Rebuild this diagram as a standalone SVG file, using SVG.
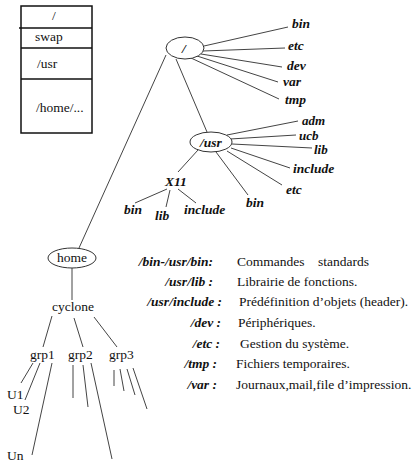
<svg xmlns="http://www.w3.org/2000/svg" width="417" height="463" viewBox="0 0 417 463">
<style>
text{font-family:'Liberation Serif','DejaVu Serif',serif;font-size:13.5px;fill:#111}
.bi{font-weight:bold;font-style:italic}
.t{font-size:13.5px}
.s{font-size:13px}
.c{text-anchor:middle}
.e{text-anchor:end}
.ln{stroke:#444;stroke-width:1;fill:none}
.node{fill:#fff;stroke:#333;stroke-width:1}
.box{fill:#fff;stroke:#111;stroke-width:1.5}
</style>
<rect width="417" height="463" fill="#fff"/>
<g id="partitions">
<rect class="box" x="21" y="6" width="71" height="127"/>
<line class="box" x1="19" y1="28" x2="92" y2="28"/>
<line class="box" x1="21" y1="48" x2="92" y2="48"/>
<line class="box" x1="21" y1="79" x2="92" y2="79"/>
<text x="52" y="20">/</text>
<text x="35" y="41">swap</text>
<text x="37" y="68">/usr</text>
<text x="36" y="112">/home/...</text>
</g>
<g id="connectors">
<line class="ln" x1="204" y1="46" x2="288" y2="27"/>
<line class="ln" x1="203" y1="51" x2="285" y2="48"/>
<line class="ln" x1="201" y1="54" x2="282" y2="67"/>
<line class="ln" x1="197" y1="56" x2="278" y2="82"/>
<line class="ln" x1="191" y1="58" x2="279" y2="99"/>
<line class="ln" x1="176" y1="59" x2="207" y2="132"/>
<line class="ln" x1="166" y1="55" x2="79" y2="248"/>
<line class="ln" x1="227" y1="135" x2="298" y2="121"/>
<line class="ln" x1="230" y1="139" x2="296" y2="135"/>
<line class="ln" x1="232" y1="144" x2="312" y2="148"/>
<line class="ln" x1="231" y1="148" x2="290" y2="168"/>
<line class="ln" x1="227" y1="151" x2="282" y2="185"/>
<line class="ln" x1="216" y1="152" x2="248" y2="195"/>
<line class="ln" x1="198" y1="150" x2="178" y2="172"/>
<line class="ln" x1="167" y1="189" x2="135" y2="203"/>
<line class="ln" x1="170" y1="190" x2="166" y2="207"/>
<line class="ln" x1="178" y1="189" x2="196" y2="203"/>
<line class="ln" x1="72" y1="268" x2="72" y2="300"/>
<line class="ln" x1="52" y1="316" x2="43" y2="347"/>
<line class="ln" x1="74" y1="318" x2="83" y2="347"/>
<line class="ln" x1="94" y1="317" x2="117" y2="347"/>
<line class="ln" x1="33" y1="363" x2="21" y2="383"/>
<line class="ln" x1="40" y1="363" x2="25" y2="400"/>
<line class="ln" x1="52" y1="363" x2="32" y2="455"/>
<line class="ln" x1="73" y1="365" x2="73" y2="398"/>
<line class="ln" x1="83" y1="365" x2="88" y2="407"/>
<line class="ln" x1="91" y1="363" x2="112" y2="459"/>
<line class="ln" x1="114" y1="370" x2="114" y2="386"/>
<line class="ln" x1="120" y1="369" x2="124" y2="391"/>
<line class="ln" x1="127" y1="369" x2="135" y2="395"/>
<line class="ln" x1="133" y1="368" x2="147" y2="409"/>
</g>
<g id="root">
<ellipse class="node" cx="185" cy="48" rx="19" ry="11"/>
<text class="bi c" x="184" y="53">/</text>
</g>
<g id="root-bin"><text class="bi" x="292" y="28">bin</text></g>
<g id="root-etc"><text class="bi" x="288" y="50">etc</text></g>
<g id="root-dev"><text class="bi" x="287" y="70">dev</text></g>
<g id="root-var"><text class="bi" x="283" y="86">var</text></g>
<g id="root-tmp"><text class="bi" x="285" y="104">tmp</text></g>
<g id="usr">
<ellipse class="node" cx="211" cy="142" rx="21" ry="10"/>
<text class="bi c" x="211" y="147">/usr</text>
</g>
<g id="usr-adm"><text class="bi s" x="302" y="125">adm</text></g>
<g id="usr-ucb"><text class="bi s" x="299" y="139.5">ucb</text></g>
<g id="usr-lib"><text class="bi s" x="314" y="154">lib</text></g>
<g id="usr-include"><text class="bi" x="293" y="173">include</text></g>
<g id="usr-etc"><text class="bi" x="286" y="194">etc</text></g>
<g id="usr-bin"><text class="bi" x="246" y="207">bin</text></g>
<g id="x11"><text class="bi" x="165" y="186">X11</text></g>
<g id="x11-bin"><text class="bi" x="124" y="214">bin</text></g>
<g id="x11-lib"><text class="bi" x="155" y="220">lib</text></g>
<g id="x11-include"><text class="bi" x="184" y="214">include</text></g>
<g id="home">
<ellipse class="node" cx="72" cy="258" rx="24" ry="10"/>
<text class="c" x="72" y="262">home</text>
</g>
<g id="cyclone"><text class="c" x="73" y="311">cyclone</text></g>
<g id="grp1"><text x="30" y="359">grp1</text></g>
<g id="grp2"><text x="68" y="359">grp2</text></g>
<g id="grp3"><text x="109" y="359">grp3</text></g>
<g id="u1"><text x="7" y="399">U1</text></g>
<g id="u2"><text x="13" y="414">U2</text></g>
<g id="un"><text x="7" y="460">Un</text></g>
<g id="legend">
<text class="bi e" x="213" y="266">/bin-/usr/bin:</text>
<text x="237" y="266" xml:space="preserve">Commandes    standards</text>
<text class="bi e" x="213" y="286">/usr/lib :</text>
<text x="237" y="286">Librairie de fonctions.</text>
<text class="bi e" x="222" y="306">/usr/include :</text>
<text x="239" y="306">Prédéfinition d’objets (header).</text>
<text class="bi e" x="221" y="327">/dev :</text>
<text x="238" y="327">Périphériques.</text>
<text class="bi e" x="220" y="348">/etc :</text>
<text x="240" y="348">Gestion du système.</text>
<text class="bi e" x="217" y="368">/tmp :</text>
<text x="236" y="368">Fichiers temporaires.</text>
<text class="bi e" x="217" y="389">/var :</text>
<text x="236" y="389">Journaux,mail,file d’impression.</text>
</g>
</svg>
